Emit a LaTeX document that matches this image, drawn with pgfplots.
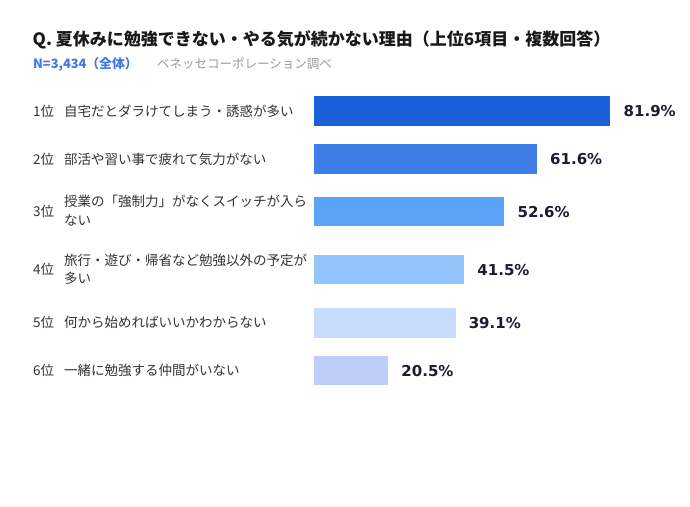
\documentclass[border=0pt]{standalone}
\usepackage{fontspec}
\usepackage{pgfplots}
\pgfplotsset{compat=1.18}
\newfontfamily\jp{Noto Sans CJK JP}
\newfontfamily\numfont{DejaVu Sans}
\definecolor{barA}{HTML}{1B60DB}
\definecolor{barB}{HTML}{3F7EE6}
\definecolor{barC}{HTML}{5BA3F6}
\definecolor{barD}{HTML}{93C5FD}
\definecolor{barE}{HTML}{C6DCFA}
\definecolor{barF}{HTML}{BECEF8}
\definecolor{txt}{HTML}{333333}
\definecolor{valtxt}{HTML}{1C1C30}
\definecolor{subblue}{HTML}{4277EC}
\definecolor{subgray}{HTML}{9A9A9A}
\begin{document}
\begin{tikzpicture}[x=1bp,y=1bp,
  lbl/.style={anchor=base west, inner sep=0pt, text=txt,
    font=\jp\fontsize{13.5bp}{18bp}\selectfont}]
\path[fill=white] (0,0) rectangle (690,-507);
% heading
\node[anchor=base west, inner sep=0pt, text=black!90,
  font=\jp\bfseries\fontsize{17bp}{20bp}\selectfont] at (32.5,-45.2)
  {Q. 夏休みに勉強できない・やる気が続かない理由（上位6項目・複数回答）};
\node[anchor=base west, inner sep=0pt, text=subblue,
  font=\jp\bfseries\fontsize{12.8bp}{15bp}\selectfont] at (33,-68.9)
  {N=3,434（全体）};
\node[anchor=base west, inner sep=0pt, text=subgray,
  font=\jp\fontsize{12.5bp}{15bp}\selectfont] at (157,-68.9)
  {ベネッセコーポレーション調べ};
% ranks
\node[lbl] at (33,-116.1) {1位};
\node[lbl] at (33,-164.1) {2位};
\node[lbl] at (33,-216.3) {3位};
\node[lbl] at (33,-274.4) {4位};
\node[lbl] at (33,-327.4) {5位};
\node[lbl] at (33,-375.3) {6位};
% reasons
\node[lbl] at (64,-116.1) {自宅だとダラけてしまう・誘惑が多い};
\node[lbl] at (64,-164.1) {部活や習い事で疲れて気力がない};
\node[lbl] at (64,-207.0) {授業の「強制力」がなくスイッチが入ら};
\node[lbl] at (64,-225.3) {ない};
\node[lbl] at (64,-265.1) {旅行・遊び・帰省など勉強以外の予定が};
\node[lbl] at (64,-283.4) {多い};
\node[lbl] at (64,-327.4) {何から始めればいいかわからない};
\node[lbl] at (64,-375.3) {一緒に勉強する仲間がいない};
\begin{axis}[
  scale only axis, width=362bp, height=507bp,
  at={(314bp,-507bp)}, anchor=south west,
  xmin=0, xmax=100, ymin=-507, ymax=0,
  hide axis, clip=false,
  xbar, bar shift=0pt, bar width=29.5,
  point meta=x,
  /pgf/number format/assume math mode=true,
  nodes near coords={\pgfmathprintnumber[fixed,fixed zerofill,precision=1]{\pgfplotspointmeta}\%},
  every node near coord/.append style={anchor=west, inner sep=0pt, xshift=13bp,
    text=valtxt, font=\numfont\bfseries\fontsize{15bp}{17bp}\selectfont},
]
\addplot[draw=none, fill=barA, bar shift=0pt] coordinates {(81.9,-111.0)};
\addplot[draw=none, fill=barB, bar shift=0pt] coordinates {(61.6,-159.0)};
\addplot[draw=none, fill=barC, bar shift=0pt] coordinates {(52.6,-211.7)};
\addplot[draw=none, fill=barD, bar shift=0pt] coordinates {(41.5,-269.7)};
\addplot[draw=none, fill=barE, bar shift=0pt] coordinates {(39.1,-322.8)};
\addplot[draw=none, fill=barF, bar shift=0pt] coordinates {(20.5,-370.7)};
\end{axis}
\end{tikzpicture}
\end{document}
